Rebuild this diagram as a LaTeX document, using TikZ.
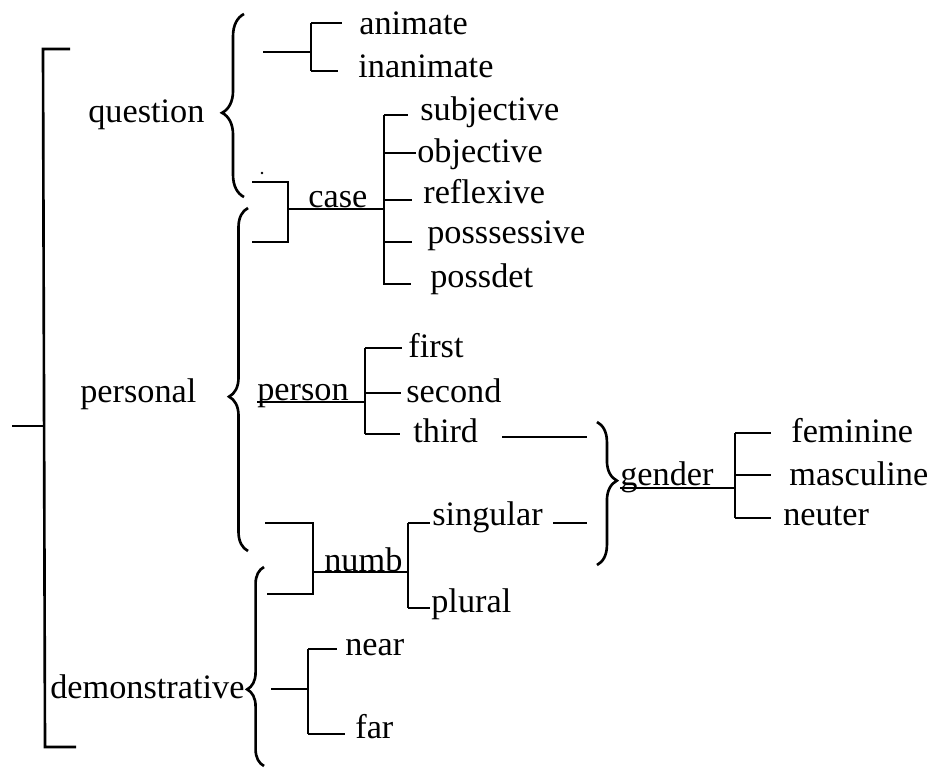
\documentclass[tikz,border=0pt]{standalone}
\usepackage{fontspec}
\setmainfont{Liberation Serif}
\usetikzlibrary{decorations.pathreplacing}

\tikzset{
  word/.style={anchor=base west, inner sep=0pt, font=\fontsize{19.5}{22}\selectfont},
  bar/.style={line width=1.5pt},
  twig/.style={line width=1.1pt},
  underline/.style={line width=0.8pt},
  curly/.style={line width=1.5pt, decorate, decoration={brace, amplitude=#1}}
}

\begin{document}
\begin{tikzpicture}[x=0.02cm, y=-0.02cm]
\useasboundingbox (0,0) rectangle (932,767);

% outer bracket
\draw[bar] (70,49) -- (43,49) -- (45,747) -- (76,747);
\draw[bar] (12,426) -- (44,426);

\node[word] (question) at (88,122) {question};
\node[word] (personal) at (80,402) {personal};
\node[word] (demonstrative) at (50,698) {demonstrative};

% braces
\draw[curly=12.5pt, decoration={aspect=0.46}] (244,197) -- (244,14);
\draw[curly=10.8pt, decoration={aspect=0.45}] (248,551) -- (248,208);
\draw[curly=9.6pt, decoration={aspect=0.385}] (264,766) -- (264,567);
\draw[curly=11.3pt, decoration={aspect=0.41}] (597,422) -- (597,565);

% question
\draw[twig] (263,52) -- (311,52);
\draw[bar] (311,23) -- (311,71);
\draw[twig] (311,23) -- (342,23);
\draw[twig] (311,71) -- (338,71);
\node[word] (animate) at (359,35) {animate};
\node[word] (inanimate) at (358,77) {inanimate};

% case
\draw[bar] (252,182) -- (288,182) -- (288,242) -- (252,242);
\fill (262,173) circle (1.3);
\node[word] (case) at (308,207) {case};
\draw[underline] (288,209) -- (384,209);
\draw[bar] (384,115) -- (384,285);
\foreach \y/\e in {115/408, 153/416, 200/412, 242/412, 284/411}
  \draw[twig] (384,\y) -- (\e,\y);
\node[word] (subjective) at (420,120) {subjective};
\node[word] (objective) at (417,162) {objective};
\node[word] (reflexive) at (423,203) {reflexive};
\node[word] (posssessive) at (427,243) {posssessive};
\node[word] (possdet) at (430,287) {possdet};

% person
\node[word] (person) at (257,400) {person};
\draw[underline] (257,402) -- (365,402);
\draw[bar] (365,348) -- (365,434);
\foreach \y/\e in {348/402, 393/401, 434/400}
  \draw[twig] (365,\y) -- (\e,\y);
\node[word] (first) at (408,357) {first};
\node[word] (second) at (406,402) {second};
\node[word] (third) at (413,442) {third};
\draw[twig] (502,437) -- (587,437);

% numb
\draw[bar] (265,523) -- (313,523) -- (313,594) -- (267,594);
\node[word] (numb) at (324,571) {numb};
\draw[underline] (313,572) -- (408,572);
\draw[bar] (408,523) -- (408,608);
\foreach \y in {523, 608}
  \draw[twig] (408,\y) -- (430,\y);
\node[word] (singular) at (432,525) {singular};
\node[word] (plural) at (431,612) {plural};
\draw[twig] (553,523) -- (587,523);

% gender
\node[word] (gender) at (620,485) {gender};
\draw[underline] (620,488) -- (735,488);
\draw[bar] (735,433) -- (735,518);
\foreach \y in {433, 475, 518}
  \draw[twig] (735,\y) -- (771,\y);
\node[word] (feminine) at (791,442) {feminine};
\node[word] (masculine) at (789,485) {masculine};
\node[word] (neuter) at (783,525) {neuter};

% near / far
\draw[twig] (271,689) -- (308,689);
\draw[bar] (308,649) -- (308,734);
\draw[twig] (308,649) -- (337,649);
\draw[twig] (308,734) -- (345,734);
\node[word] (near) at (345,655) {near};
\node[word] (far) at (355,738) {far};
\end{tikzpicture}
\end{document}
